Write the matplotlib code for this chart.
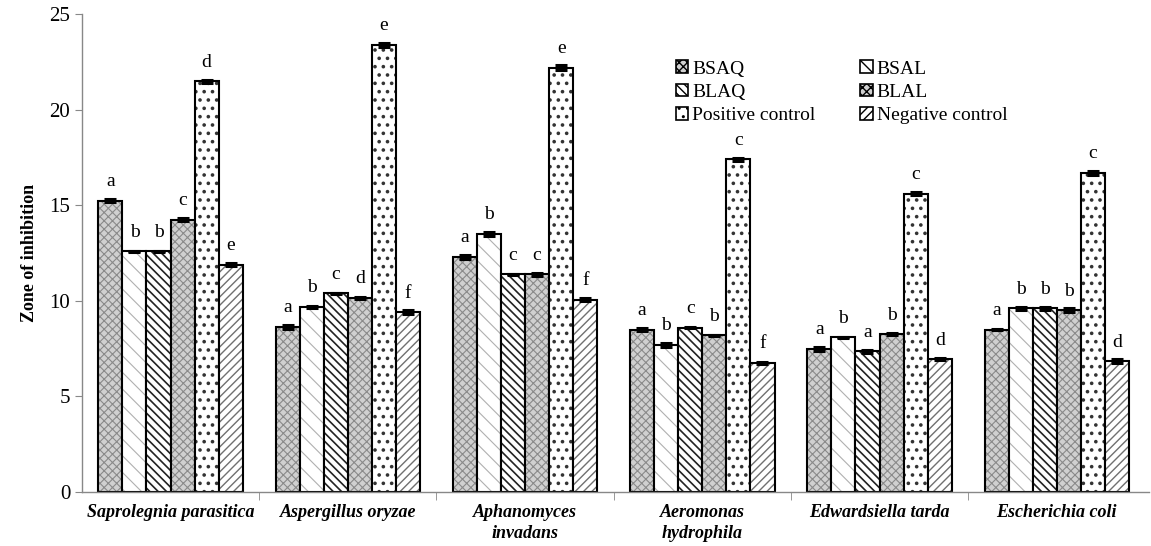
import numpy as np
import matplotlib
matplotlib.use("Agg")
import matplotlib.pyplot as plt

plt.rcParams["font.family"] = ["Liberation Serif", "DejaVu Serif"]
plt.rcParams["hatch.linewidth"] = 1.0

# ── data ──────────────────────────────────────────────────────────────────
categories = ["Saprolegnia parasitica", "Aspergillus oryzae", "Aphanomyces\ninvadans",
              "Aeromonas\nhydrophila", "Edwardsiella tarda", "Escherichia coli"]
series = ["BSAQ", "BSAL", "BLAQ", "BLAL", "Positive control", "Negative control"]

bsaq = [15.25, 8.65, 12.3, 8.5, 7.5, 8.5]
bsal = [12.6, 9.7, 13.5, 7.7, 8.1, 9.6]
blaq = [12.6, 10.4, 11.4, 8.6, 7.35, 9.6]
blal = [14.25, 10.15, 11.4, 8.2, 8.25, 9.5]
pos = [21.5, 23.4, 22.2, 17.4, 15.6, 16.7]
neg = [11.9, 9.4, 10.05, 6.75, 6.95, 6.85]

err_bsaq = [0.08, 0.1, 0.1, 0.08, 0.1, 0.05]
err_bsal = [0.03, 0.05, 0.12, 0.1, 0.03, 0.08]
err_blaq = [0.03, 0.03, 0.03, 0.03, 0.06, 0.1]
err_blal = [0.08, 0.03, 0.08, 0.03, 0.06, 0.1]
err_pos = [0.08, 0.1, 0.12, 0.08, 0.07, 0.1]
err_neg = [0.08, 0.1, 0.08, 0.03, 0.06, 0.1]

letters_bsaq = ["a", "a", "a", "a", "a", "a"]
letters_bsal = ["b", "b", "b", "b", "b", "b"]
letters_blaq = ["b", "c", "c", "c", "a", "b"]
letters_blal = ["c", "d", "c", "b", "b", "b"]
letters_pos = ["d", "e", "e", "c", "c", "c"]
letters_neg = ["e", "f", "f", "f", "d", "d"]

values = [bsaq, bsal, blaq, blal, pos, neg]
errors = [err_bsaq, err_bsal, err_blaq, err_blal, err_pos, err_neg]
letters = [letters_bsaq, letters_bsal, letters_blaq, letters_blal, letters_pos, letters_neg]

# ── styles ────────────────────────────────────────────────────────────────
styles = [
    dict(facecolor="#d0d0d0", hatch="xxxx", edgecolor="#8a8a8a"),
    dict(facecolor="white", hatch="\\\\", edgecolor="#b0b0b0"),
    dict(facecolor="white", hatch="\\\\\\\\", edgecolor="#222222"),
    dict(facecolor="#d0d0d0", hatch="xxxx", edgecolor="#8a8a8a"),
    dict(facecolor="white", hatch="..", edgecolor="#333333"),
    dict(facecolor="white", hatch="////", edgecolor="#707070"),
]
hatch_lw = [0.8, 0.8, 1.2, 0.8, 1.4, 1.0]

fig = plt.figure(figsize=(11.51, 5.46), dpi=100)
ax = fig.add_axes([0.0712, 0.099, 0.927, 0.875])

n = len(series)
x = np.arange(len(categories))
width = 0.815 / n

for i in range(n):
    pos_x = x - 0.815 / 2 + width * (i + 0.5)
    plt.rcParams["hatch.linewidth"] = hatch_lw[i]
    ax.bar(pos_x, values[i], width, label=series[i], linewidth=0, **styles[i])
    plt.rcParams["hatch.linewidth"] = 1.0
    # black outline drawn separately so hatch colour can differ
    ax.bar(pos_x, values[i], width, facecolor="none", edgecolor="black", linewidth=1.5)
    ax.errorbar(pos_x, values[i], yerr=errors[i], fmt="none", ecolor="black",
                elinewidth=1.5, capsize=4.5, capthick=2.2)
    for xx, v, lab in zip(pos_x, values[i], letters[i]):
        ax.text(xx, v + 0.55, lab, ha="center", va="bottom", fontsize=14)

ax.set_xlim(-0.5, len(categories) - 0.5 + 0.02)
ax.set_ylim(0, 25)
ax.set_yticks([0, 5, 10, 15, 20, 25])
ax.tick_params(axis="y", labelsize=15, length=5, color="#888888", direction="out")
ax.set_ylabel("Zone of inhibition", fontsize=13, fontweight="bold", labelpad=8)

ax.set_xticks(x)
ax.set_xticklabels(categories, fontsize=13, fontweight="bold", fontstyle="italic",
                   linespacing=1.25)
ax.tick_params(axis="x", length=0, pad=9)
ax.set_xticks(np.arange(0.5, len(categories) - 0.5, 1.0), minor=True)
ax.tick_params(axis="x", which="minor", length=6, color="#888888", direction="out")

for s in ["top", "right"]:
    ax.spines[s].set_visible(False)
for s in ["left", "bottom"]:
    ax.spines[s].set_color("#888888")
    ax.spines[s].set_linewidth(1.0)

handles, labs = ax.get_legend_handles_labels()
order = [0, 2, 4, 1, 3, 5]
leg = ax.legend([handles[k] for k in order], [labs[k] for k in order], ncol=2,
                frameon=False, fontsize=14, loc="upper left",
                bbox_to_anchor=(0.54, 0.94), handlelength=0.65, handleheight=0.65,
                handletextpad=0.2, columnspacing=2.3, labelspacing=0.3)
for h in leg.legend_handles:
    h.set_edgecolor("black")
    h.set_linewidth(1.2)

fig.savefig("out.png", dpi=100)
